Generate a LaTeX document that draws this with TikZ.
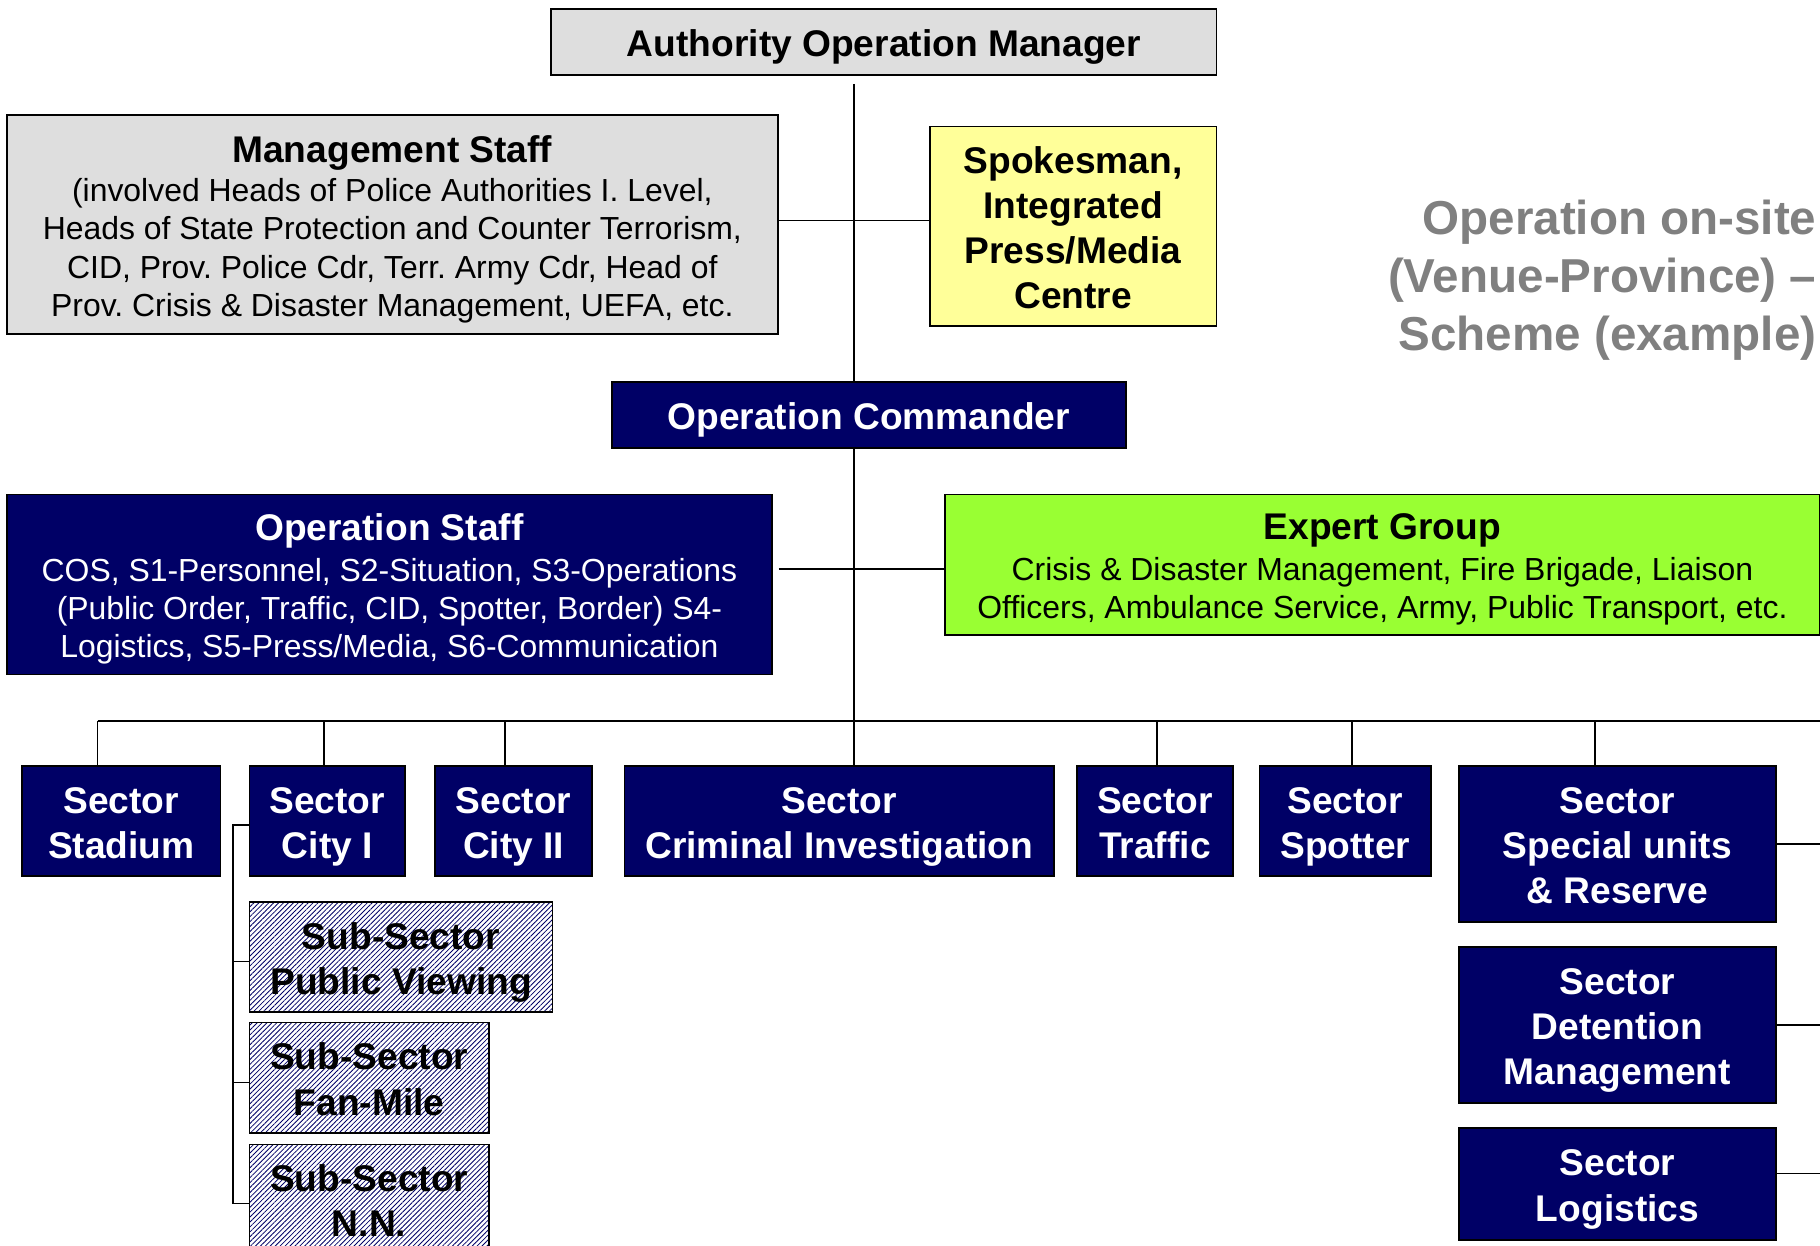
\documentclass[tikz,border=0pt]{standalone}
\usepackage{fontspec}
\setmainfont{Liberation Sans}
\usepackage{tikz}
\usetikzlibrary{patterns.meta}
\frenchspacing
\definecolor{commandnavy}{RGB}{0,0,102}
\definecolor{managegray}{RGB}{222,222,222}
\definecolor{pressyellow}{RGB}{255,255,153}
\definecolor{expertgreen}{RGB}{153,255,51}
\definecolor{titlegray}{RGB}{128,128,128}
\newcommand{\sectorfont}{\fontsize{16}{19.5}\selectfont\bfseries}
\newcommand{\detailfont}{\fontsize{13.75}{16.5}\selectfont}
\newcommand{\topstrut}{\rule{0pt}{16.6pt}}
\newcommand{\bottomstrut}{\rule[-4pt]{0pt}{4pt}}

\begin{document}
\begin{tikzpicture}[x=0.5pt, y=-0.5pt,
    orgbox/.style={draw=black, line width=0.75pt, inner sep=0pt, align=center, font=\sectorfont},
    navybox/.style={orgbox, fill=commandnavy, text=white},
    sectorbox/.style={navybox, minimum height=47.5pt},
    subbox/.style={orgbox, minimum height=47.5pt, preaction={fill=white},
        pattern={Lines[angle=45, distance=1.5pt, line width=0.35pt]}, pattern color=commandnavy},
    conn/.style={draw=black, line width=0.7pt}]
        \useasboundingbox (0,0) rectangle (1568,1073);

        % Top level
        \node[orgbox, fill=managegray, minimum width=286.5pt, minimum height=28.5pt] (aom) at (761.5,36) {\topstrut Authority Operation Manager\bottomstrut};
        \node[orgbox, fill=managegray, minimum width=332pt, minimum height=94.5pt, font=\detailfont] (mgmt) at (338,193.5)
            {\topstrut{\sectorfont Management Staff}\\[0.5pt](involved Heads of Police Authorities I. Level,\\Heads of State Protection and Counter Terrorism,\\CID, Prov. Police Cdr, Terr. Army Cdr, Head of\\Prov. Crisis \& Disaster Management, UEFA, etc.\bottomstrut};
        \node[orgbox, fill=pressyellow, minimum width=123.5pt, minimum height=86pt] (spokes) at (924.5,195) {\topstrut Spokesman,\\Integrated\\Press/Media\\Centre\bottomstrut};
        \node[font=\fontsize{20.5}{25}\selectfont\bfseries, text=titlegray, align=right, anchor=east] (title) at (1572,241)
            {Operation on-site\\(Venue-Province) –\\Scheme (example)};

        % Command level
        \node[navybox, minimum width=221.5pt, minimum height=28.5pt] (opcmd) at (748.5,357.5) {\topstrut Operation Commander\bottomstrut};
        \node[navybox, minimum width=329.5pt, minimum height=77.5pt, font=\detailfont] (opstaff) at (335.5,503.5)
            {\topstrut{\sectorfont Operation Staff}\\[1pt]COS, S1-Personnel, S2-Situation, S3-Operations\\(Public Order, Traffic, CID, Spotter, Border) S4-\\Logistics, S5-Press/Media, S6-Communication\bottomstrut};
        \node[orgbox, fill=expertgreen, minimum width=377pt, minimum height=60.5pt, font=\detailfont] (expert) at (1191,486.5)
            {\topstrut{\sectorfont Expert Group}\\[1pt]Crisis \& Disaster Management, Fire Brigade, Liaison\\Officers, Ambulance Service, Army, Public Transport, etc.\bottomstrut};

        % Sectors
        \node[sectorbox, minimum width=85.5pt] (stadium) at (104.5,707.5) {\topstrut Sector\\Stadium\bottomstrut};
        \node[sectorbox, minimum width=67pt] (cityone) at (282,707.5) {\topstrut Sector\\City I\bottomstrut};
        \node[sectorbox, minimum width=67.5pt] (citytwo) at (442.5,707.5) {\topstrut Sector\\City II\bottomstrut};
        \node[sectorbox, minimum width=185pt] (crimi) at (723,707.5) {\topstrut Sector\\Criminal Investigation\bottomstrut};
        \node[sectorbox, minimum width=67pt] (traffic) at (995,707.5) {\topstrut Sector\\Traffic\bottomstrut};
        \node[sectorbox, minimum width=74pt] (spotter) at (1159,707.5) {\topstrut Sector\\Spotter\bottomstrut};
        \node[navybox, minimum width=136.5pt, minimum height=67pt] (special) at (1393.5,727) {\topstrut Sector\\Special units\\\& Reserve\bottomstrut};
        \node[navybox, minimum width=136.5pt, minimum height=67pt] (detention) at (1393.5,883) {\topstrut Sector\\Detention\\Management\bottomstrut};
        \node[navybox, minimum width=136.5pt, minimum height=48pt] (logistics) at (1393.5,1020) {\topstrut Sector\\Logistics\bottomstrut};

        % Sub-sectors
        \node[subbox, minimum width=130.5pt] (subpv) at (345.5,824.5) {\topstrut Sub-Sector\\Public Viewing\bottomstrut};
        \node[subbox, minimum width=103pt] (subfan) at (318,928.5) {\topstrut Sub-Sector\\Fan-Mile\bottomstrut};
        \node[subbox, minimum width=103pt] (subnn) at (318,1033.5) {\topstrut Sub-Sector\\N.N.\bottomstrut};

        % Connectors
        \coordinate (trunk) at (736,621);
        \coordinate (busL) at (84,621);
        \coordinate (busR) at (1568,621);
        \coordinate (spine) at (201,711);
        \draw[conn] ([yshift=-3.5pt]trunk |- aom.south) -- (trunk |- opcmd.north);
        \draw[conn] (trunk |- opcmd.south) -- (trunk);
        \draw[conn] ([yshift=1.75pt]mgmt.east) -- ([yshift=1.75pt]mgmt.east -| spokes.west);
        \draw[conn] ([xshift=2.5pt,yshift=-1.75pt]opstaff.east |- expert.west) -- ([yshift=-1.75pt]expert.west);
        \draw[conn] (busL) -- (busR);
        \foreach \n/\dx in {stadium/-20.5, cityone/-3, citytwo/-7.5, crimi/13, traffic/2, spotter/6, special/-19.5}
            \draw[conn] ([xshift=\dx*0.5pt]\n.north) -- ([xshift=\dx*0.5pt]\n.north |- busL);
        \draw[conn] (special.east) -- (special.east -| busR);
        \draw[conn] (detention.east) -- (detention.east -| busR);
        \draw[conn] ([yshift=4.5pt]logistics.east) -- ([yshift=4.5pt]logistics.east -| busR);
        \draw[conn] ([yshift=-1.75pt]cityone.west) -- ([yshift=-1.75pt]cityone.west -| spine) -- ([yshift=-1.75pt]spine |- subnn.west) -- ([yshift=-1.75pt]subnn.west);
        \foreach \n in {subpv, subfan}
            \draw[conn] ([yshift=-2pt]\n.west -| spine) -- ([yshift=-2pt]\n.west);
    \end{tikzpicture}
\end{document}
